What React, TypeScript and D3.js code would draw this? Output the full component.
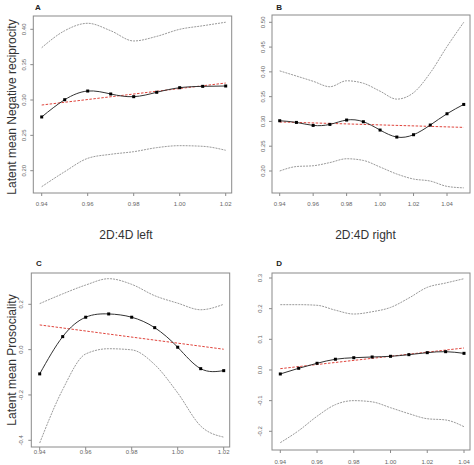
import React from "react";
import * as d3 from "d3";

// ---------- DATA ----------
const X_LEFT = [0.94, 0.95, 0.96, 0.97, 0.98, 0.99, 1.0, 1.01, 1.02];
const X_RIGHT_B = [0.94, 0.95, 0.96, 0.97, 0.98, 0.99, 1.0, 1.01, 1.02, 1.03, 1.04, 1.05];
const X_RIGHT_D = [0.94, 0.95, 0.96, 0.97, 0.98, 0.99, 1.0, 1.01, 1.02, 1.03, 1.04];

// Panel A: Negative reciprocity vs left 2D:4D
const fitA = [0.276, 0.3004, 0.3127, 0.3085, 0.3047, 0.3109, 0.3174, 0.3193, 0.3198];
const upperA = [0.374, 0.398, 0.4085, 0.398, 0.3835, 0.39, 0.4, 0.405, 0.41];
const lowerA = [0.1774, 0.1986, 0.2175, 0.2232, 0.2269, 0.2326, 0.2354, 0.2345, 0.2289];
const linA = [0.2929, 0.324];

// Panel B: Negative reciprocity vs right 2D:4D
const fitB = [0.3014, 0.298, 0.292, 0.294, 0.3028, 0.2994, 0.2826, 0.2685, 0.2732, 0.2927, 0.3155, 0.3343];
const upperB = [0.402, 0.3916, 0.381, 0.37, 0.382, 0.377, 0.361, 0.345, 0.358, 0.398, 0.451, 0.5];
const lowerB = [0.2, 0.209, 0.2106, 0.217, 0.2247, 0.2213, 0.208, 0.1939, 0.1838, 0.1797, 0.169, 0.166];
const linB = [0.299, 0.288];

// Panel C: Prosociality vs left 2D:4D
const fitC = [-0.107, 0.0574, 0.143, 0.1575, 0.143, 0.097, 0.0106, -0.084, -0.0927];
const upperC = [0.203, 0.246, 0.285, 0.313, 0.288, 0.238, 0.205, 0.176, 0.2];
const lowerC = [-0.412, -0.176, -0.019, 0.004, -0.001, -0.066, -0.191, -0.337, -0.386];
const linC = [0.109, 0.0018];

// Panel D: Prosociality vs right 2D:4D
const fitD = [-0.013, 0.0055, 0.0218, 0.035, 0.04, 0.0424, 0.0446, 0.05, 0.0565, 0.0597, 0.0543];
const upperD = [0.213, 0.213, 0.211, 0.195, 0.1825, 0.19, 0.204, 0.2347, 0.2695, 0.2836, 0.2977];
const lowerD = [-0.237, -0.198, -0.151, -0.113, -0.1, -0.104, -0.123, -0.1425, -0.159, -0.163, -0.185];
const linD = [0.0043, 0.0717];

// Tick values / labels
const xTicksLeft = [0.94, 0.96, 0.98, 1.0, 1.02];
const xTicksRight = [0.94, 0.96, 0.98, 1.0, 1.02, 1.04];
const yTicksA = [0.2, 0.25, 0.3, 0.35, 0.4];
const yTicksB = [0.2, 0.25, 0.3, 0.35, 0.4, 0.45, 0.5];
const yTicksC = [-0.4, -0.2, 0.0, 0.2];
const yTicksD = [-0.2, -0.1, 0.0, 0.1, 0.2, 0.3];

const yLabelTop = "Latent mean Negative reciprocity";
const yLabelBottom = "Latent mean Prosociality";
const xLabelLeft = "2D:4D left";
const xLabelRight = "2D:4D right";

const FONT = "'Liberation Sans', Arial, sans-serif";

type PanelProps = {
  title: string;
  xs: number[];
  fit: number[];
  upper: number[];
  lower: number[];
  lin: number[];
  xDomain: [number, number];
  xRange: [number, number];
  yDomain: [number, number];
  yRange: [number, number];
  box: { x0: number; x1: number; y0: number; y1: number };
  xTicks: number[];
  yTicks: number[];
  yDigits: number;
  yTickLabelX: number;
  xTickLabelY: number;
  titleX: number;
  titleY: number;
};

function Panel(p: PanelProps) {
  const x = d3.scaleLinear().domain(p.xDomain).range(p.xRange);
  const y = d3.scaleLinear().domain(p.yDomain).range(p.yRange);
  const smooth = d3
    .line<[number, number]>()
    .x((d) => x(d[0]))
    .y((d) => y(d[1]))
    .curve(d3.curveNatural);
  const band = d3
    .line<[number, number]>()
    .x((d) => x(d[0]))
    .y((d) => y(d[1]))
    .curve(d3.curveMonotoneX);
  const straight = d3
    .line<[number, number]>()
    .x((d) => x(d[0]))
    .y((d) => y(d[1]));
  const pts = p.xs.map((v, i) => [v, p.fit[i]] as [number, number]);
  const up = p.xs.map((v, i) => [v, p.upper[i]] as [number, number]);
  const lo = p.xs.map((v, i) => [v, p.lower[i]] as [number, number]);
  const xEnd = p.xs[p.xs.length - 1];
  const linPts: [number, number][] = [
    [p.xs[0], p.lin[0]],
    [xEnd, p.lin[1]],
  ];
  const { x0, x1, y0, y1 } = p.box;
  return (
    <g>
      <text x={p.titleX} y={p.titleY} fontFamily={FONT} fontWeight="bold" fontSize={8} fill="#222">
        {p.title}
      </text>
      <rect x={x0} y={y0} width={x1 - x0} height={y1 - y0} fill="none" stroke="#8a8a8a" strokeWidth={1} />
      {p.xTicks.map((t) => (
        <g key={"xt" + t}>
          <line x1={x(t)} x2={x(t)} y1={y1} y2={y1 + 3} stroke="#8a8a8a" strokeWidth={1} />
          <text
            x={x(t)}
            y={p.xTickLabelY}
            textAnchor="middle"
            fontFamily={FONT}
            fontSize={6}
            fill="#666"
          >
            {t.toFixed(2)}
          </text>
        </g>
      ))}
      {p.yTicks.map((t) => (
        <g key={"yt" + t}>
          <line x1={x0 - 3} x2={x0} y1={y(t)} y2={y(t)} stroke="#8a8a8a" strokeWidth={1} />
          <text
            transform={`translate(${p.yTickLabelX + 2.5},${y(t)}) rotate(-90)`}
            textAnchor="middle"
            fontFamily={FONT}
            fontSize={6}
            fill="#666"
          >
            {t.toFixed(p.yDigits)}
          </text>
        </g>
      ))}
      <path d={band(up) || ""} fill="none" stroke="#9a9a9a" strokeWidth={1} strokeDasharray="2,1" />
      <path d={band(lo) || ""} fill="none" stroke="#9a9a9a" strokeWidth={1} strokeDasharray="2,1" />
      <path d={straight(linPts) || ""} fill="none" stroke="#e0443c" strokeWidth={1} strokeDasharray="2.5,1.5" />
      <path d={smooth(pts) || ""} fill="none" stroke="#333" strokeWidth={1} />
      {pts.map((d, i) => (
        <rect key={i} x={x(d[0]) - 1.5} y={y(d[1]) - 1.5} width={3} height={3} fill="#000" />
      ))}
    </g>
  );
}

export default function App() {
  return (
    <svg
      width={474}
      height={465}
      style={{ position: "absolute", left: 0, top: 0, background: "#fff", display: "block" }}
    >
      <rect x={0} y={0} width={474} height={465} fill="#fff" />
      <Panel
        title="A"
        xs={X_LEFT}
        fit={fitA}
        upper={upperA}
        lower={lowerA}
        lin={linA}
        xDomain={[0.94, 1.02]}
        xRange={[41.7, 225.7]}
        yDomain={[0.2, 0.4]}
        yRange={[170.7, 29.3]}
        box={{ x0: 33.3, x1: 231.7, y0: 16, y1: 193 }}
        xTicks={xTicksLeft}
        yTicks={yTicksA}
        yDigits={2}
        yTickLabelX={23.3}
        xTickLabelY={206}
        titleX={35}
        titleY={9.5}
      />
      <Panel
        title="B"
        xs={X_RIGHT_B}
        fit={fitB}
        upper={upperB}
        lower={lowerB}
        lin={linB}
        xDomain={[0.94, 1.04]}
        xRange={[279.7, 447]}
        yDomain={[0.2, 0.5]}
        yRange={[171, 22.3]}
        box={{ x0: 272, x1: 470, y0: 15, y1: 193 }}
        xTicks={xTicksRight}
        yTicks={yTicksB}
        yDigits={2}
        yTickLabelX={262}
        xTickLabelY={206}
        titleX={276.3}
        titleY={9.5}
      />
      <Panel
        title="C"
        xs={X_LEFT}
        fit={fitC}
        upper={upperC}
        lower={lowerC}
        lin={linC}
        xDomain={[0.94, 1.02]}
        xRange={[39.7, 223.7]}
        yDomain={[-0.4, 0.2]}
        yRange={[440.3, 304.3]}
        box={{ x0: 31.3, x1: 229.7, y0: 273, y1: 447 }}
        xTicks={xTicksLeft}
        yTicks={yTicksC}
        yDigits={1}
        yTickLabelX={20.5}
        xTickLabelY={453.5}
        titleX={36}
        titleY={266}
      />
      <Panel
        title="D"
        xs={X_RIGHT_D}
        fit={fitD}
        upper={upperD}
        lower={lowerD}
        lin={linD}
        xDomain={[0.94, 1.04]}
        xRange={[280.3, 464]}
        yDomain={[-0.2, 0.3]}
        yRange={[431.3, 278]}
        box={{ x0: 272, x1: 470, y0: 273, y1: 450 }}
        xTicks={xTicksRight}
        yTicks={yTicksD}
        yDigits={1}
        yTickLabelX={259.7}
        xTickLabelY={463.5}
        titleX={276.3}
        titleY={266}
      />
      <text
        transform="translate(15.5,107) rotate(-90)"
        textAnchor="middle"
        fontFamily={FONT}
        fontSize={12}
        fill="#333"
      >
        {yLabelTop}
      </text>
      <text
        transform="translate(15.5,360) rotate(-90)"
        textAnchor="middle"
        fontFamily={FONT}
        fontSize={12}
        fill="#333"
      >
        {yLabelBottom}
      </text>
      <text x={126} y={239} textAnchor="middle" fontFamily={FONT} fontSize={12} fill="#333">
        {xLabelLeft}
      </text>
      <text x={365.5} y={239} textAnchor="middle" fontFamily={FONT} fontSize={12} fill="#333">
        {xLabelRight}
      </text>
    </svg>
  );
}
